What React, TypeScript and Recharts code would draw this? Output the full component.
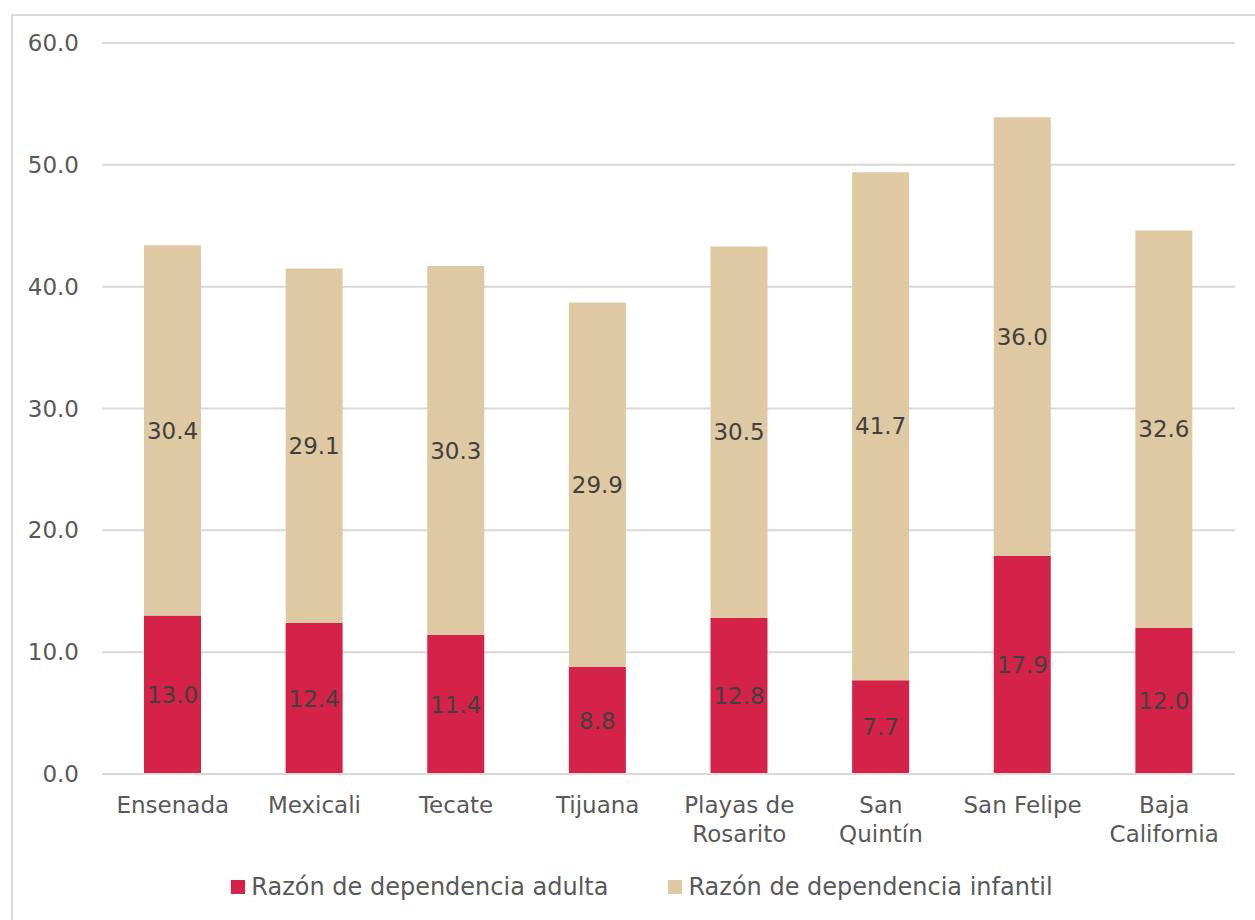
import { Bar, BarChart, CartesianGrid, LabelList, XAxis, YAxis } from "recharts";

const municipios = [
  "Ensenada",
  "Mexicali",
  "Tecate",
  "Tijuana",
  "Playas de\nRosarito",
  "San\nQuintín",
  "San Felipe",
  "Baja\nCalifornia",
];
const adulta = [13.0, 12.4, 11.4, 8.8, 12.8, 7.7, 17.9, 12.0];
const infantil = [30.4, 29.1, 30.3, 29.9, 30.5, 41.7, 36.0, 32.6];
const yTicks = [0, 10, 20, 30, 40, 50, 60];

const RED = "#D52248";
const BEIGE = "#DFC9A3";
const FONT = "'DejaVu Sans', sans-serif";
const FS = 23;

const data = municipios.map((name, i) => ({
  name,
  adulta: adulta[i],
  infantil: infantil[i],
}));

const CategoryTick = ({ x, y, payload }: any) => {
  const lines = String(payload.value).split("\n");
  return (
    <text x={x} y={y} textAnchor="middle" fill="#595959" fontSize={FS} fontFamily={FONT}>
      {lines.map((l, i) => (
        <tspan key={i} x={x} dy={i === 0 ? 31 : 29}>
          {l}
        </tspan>
      ))}
    </text>
  );
};

const legendItems = [
  { label: "Razón de dependencia adulta", color: RED },
  { label: "Razón de dependencia infantil", color: BEIGE },
];

export default function App() {
  return (
    <div style={{ position: "absolute", left: 0, top: 0, width: 1255, height: 920, overflow: "hidden", background: "#fff" }}>
      <div
        style={{
          position: "absolute",
          left: 11,
          top: 14,
          width: 1270,
          height: 930,
          border: "2px solid #d9d9d9",
        }}
      />
      <div style={{ position: "absolute", left: 0, top: 0 }}>
        <BarChart
          width={1255}
          height={920}
          data={data}
          margin={{ top: 43, right: 20, bottom: 0, left: 0 }}
          barSize={57}
        >
          <CartesianGrid vertical={false} stroke="#d9d9d9" strokeWidth={2} />
          <XAxis
            dataKey="name"
            axisLine={{ stroke: "#d9d9d9", strokeWidth: 2 }}
            tickLine={false}
            tick={<CategoryTick />}
            interval={0}
            height={146}
          />
          <YAxis
            width={102}
            domain={[0, 60]}
            ticks={yTicks}
            axisLine={false}
            tickLine={false}
            tickMargin={17}
            tickFormatter={(v: number) => v.toFixed(1)}
            tick={{ fill: "#595959", fontSize: FS, fontFamily: FONT }}
          />
          <Bar dataKey="adulta" stackId="a" fill={RED} isAnimationActive={false} name="Razón de dependencia adulta">
            <LabelList
              dataKey="adulta"
              position="center"
              formatter={(v: any) => Number(v).toFixed(1)}
              fill="#404040"
              fontSize={FS}
              fontFamily={FONT}
            />
          </Bar>
          <Bar dataKey="infantil" stackId="a" fill={BEIGE} isAnimationActive={false} name="Razón de dependencia infantil">
            <LabelList
              dataKey="infantil"
              position="center"
              formatter={(v: any) => Number(v).toFixed(1)}
              fill="#404040"
              fontSize={FS}
              fontFamily={FONT}
            />
          </Bar>
        </BarChart>
      </div>
      <div
        style={{
          position: "absolute",
          left: 0,
          top: 873,
          width: 1255,
          display: "flex",
          justifyContent: "center",
          gap: 60,
          fontFamily: FONT,
          fontSize: 24,
          color: "#595959",
          paddingLeft: 29,
          boxSizing: "border-box",
        }}
      >
        {legendItems.map((item) => (
          <div key={item.label} style={{ display: "flex", alignItems: "center", gap: 6 }}>
            <div style={{ width: 14, height: 14, background: item.color }} />
            <span>{item.label}</span>
          </div>
        ))}
      </div>
    </div>
  );
}
